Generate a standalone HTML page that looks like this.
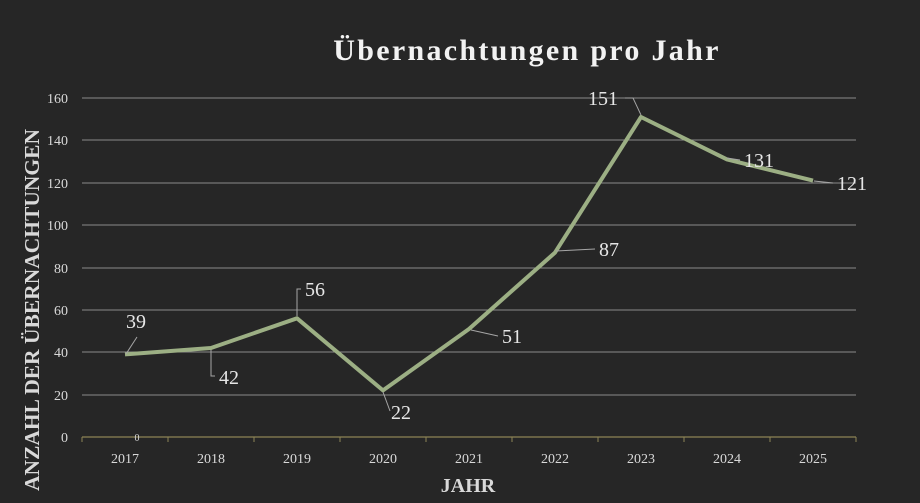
<!DOCTYPE html>
<html><head><meta charset="utf-8"><style>
html,body{margin:0;padding:0;background:#262626;}
svg{display:block;font-family:"Liberation Serif",serif;}
</style></head><body>
<svg width="920" height="503" viewBox="0 0 920 503">
<rect width="920" height="503" fill="#262626"/>
<text x="527" y="60" text-anchor="middle" font-size="30" font-weight="bold" letter-spacing="2.3" fill="#f2f2f2">Übernachtungen pro Jahr</text>
<g stroke="#8a8a8a" stroke-width="1">
<line x1="82" x2="856" y1="98" y2="98"/><line x1="82" x2="856" y1="140" y2="140"/>
<line x1="82" x2="856" y1="183" y2="183"/><line x1="82" x2="856" y1="225" y2="225"/>
<line x1="82" x2="856" y1="268" y2="268"/><line x1="82" x2="856" y1="310" y2="310"/>
<line x1="82" x2="856" y1="352" y2="352"/><line x1="82" x2="856" y1="395" y2="395"/>
</g>
<line x1="82" x2="856" y1="437" y2="437" stroke="#8c8455" stroke-width="1.2"/>
<g stroke="#8c8455" stroke-width="1">
<line x1="82" x2="82" y1="437" y2="442"/><line x1="168" x2="168" y1="437" y2="442"/><line x1="254" x2="254" y1="437" y2="442"/><line x1="340" x2="340" y1="437" y2="442"/><line x1="426" x2="426" y1="437" y2="442"/><line x1="512" x2="512" y1="437" y2="442"/><line x1="598" x2="598" y1="437" y2="442"/><line x1="684" x2="684" y1="437" y2="442"/><line x1="770" x2="770" y1="437" y2="442"/><line x1="856" x2="856" y1="437" y2="442"/>
</g>
<g font-size="14" fill="#d9d9d9" text-anchor="end">
<text x="68" y="103">160</text><text x="68" y="145">140</text><text x="68" y="188">120</text><text x="68" y="230">100</text><text x="68" y="273">80</text><text x="68" y="315">60</text><text x="68" y="357">40</text><text x="68" y="400">20</text><text x="68" y="442">0</text>
</g>
<g font-size="14" fill="#d9d9d9" text-anchor="middle">
<text x="125" y="463">2017</text><text x="211" y="463">2018</text><text x="297" y="463">2019</text><text x="383" y="463">2020</text><text x="469" y="463">2021</text><text x="555" y="463">2022</text><text x="641" y="463">2023</text><text x="727" y="463">2024</text><text x="813" y="463">2025</text>
</g>
<text x="137" y="441" font-size="10" fill="#d9d9d9" text-anchor="middle">0</text>
<text x="468" y="492" font-size="20" font-weight="bold" fill="#d9d9d9" text-anchor="middle">JAHR</text>
<text transform="translate(39,310) rotate(-90)" font-size="21.5" font-weight="bold" fill="#d9d9d9" text-anchor="middle">ANZAHL DER ÜBERNACHTUNGEN</text>
<polyline points="125,354.4 211,348 297,318.3 383,390.4 469,329 555,252.6 641,117 727,159.4 813,180.6" fill="none" stroke="#9caf84" stroke-width="4" stroke-linejoin="round"/>
<g stroke="#a6a6a6" stroke-width="1" fill="none">
<polyline points="126,354 137,337"/>
<polyline points="211,350 211,376 215,376"/>
<polyline points="297,316 297,289 301,289"/>
<polyline points="383,392 390,411"/>
<polyline points="471,330 498,336"/>
<polyline points="556,251 595,249"/>
<polyline points="641,115 633,98 625,98"/>
<polyline points="727,158 740,160"/>
<polyline points="814,181 833,183"/>
</g>
<g font-size="20" fill="#e6e6e6">
<text x="126" y="328">39</text><text x="219" y="384">42</text><text x="305" y="296">56</text><text x="391" y="419">22</text><text x="502" y="343">51</text><text x="599" y="256">87</text><text x="588" y="105">151</text><text x="744" y="167">131</text><text x="837" y="190">121</text>
</g>
</svg>
</body></html>
